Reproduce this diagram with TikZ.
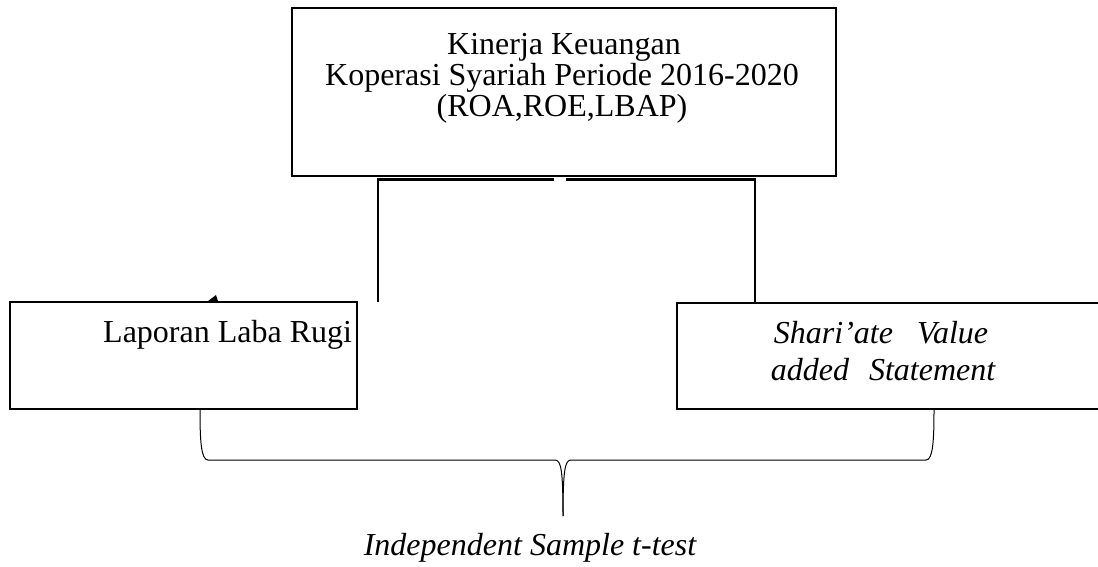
\documentclass[tikz,border=0pt]{standalone}
\usepackage{fontspec}
\setmainfont{Liberation Serif}
\begin{document}
\begin{tikzpicture}[x=1pt,y=-1pt,
  boxline/.style={line width=2.2pt},
  conn/.style={line width=2.2pt},
  bracel/.style={line width=1pt},
  txt/.style={inner sep=0pt,anchor=base,font=\fontsize{32}{30}\selectfont},
  itxt/.style={txt,font=\fontsize{32}{30}\selectfont\itshape}]
\useasboundingbox (0,0) rectangle (1098,566);
% boxes
\draw[boxline] (292,8) rectangle (836,176);
\draw[boxline] (10,302) rectangle (357,409);
\draw[boxline] (677,303) rectangle (1110,409);
% texts
\node[txt] (t1) at (564,54) {Kinerja Keuangan};
\node[txt] (t2) at (562,85) {Koperasi Syariah Periode 2016-2020};
\node[txt] (t3) at (562,116) {(ROA,ROE,LBAP)};
\node[txt,anchor=base west] (lr) at (103,342) {Laporan Laba Rugi};
\node[itxt] (sv1) at (881,343) {Shari’ate\hspace{24pt}Value};
\node[itxt] (sv2) at (883,380) {added\hspace{20pt}Statement};
\node[itxt] (ist) at (530,555) {Independent Sample t-test};
% connectors
\coordinate (hLe) at (554,179.5);
\coordinate (hRs) at (566,179.5);
\coordinate (hR) at (755,179.5);
\coordinate (vL) at (378,302);
\coordinate (vR) at (755,303);
\draw[conn] (vL) -- (378,179.5) -- (hLe);
\draw[conn] (hRs) -- (hR) -- (vR);
% small arrowhead remnant
\fill (208,301) -- (218,301) -- (216,295) -- cycle;
% brace
\coordinate (bl) at (200,410);
\coordinate (br) at (934,410);
\coordinate (bt) at (563,516);
\draw[bracel] (bl) .. controls (200,440) and (201,460) .. (208,460) -- (555,460)
  .. controls (561,460) and (563,470) .. (bt);
\draw[bracel] (br) .. controls (934,440) and (933,460) .. (926,460) -- (571,460)
  .. controls (565,460) and (563,470) .. (bt);
\end{tikzpicture}
\end{document}
